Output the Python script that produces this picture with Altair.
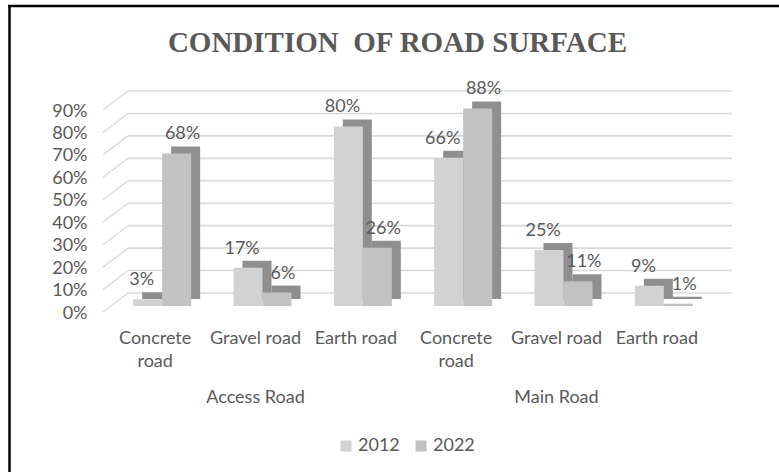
import altair as alt
import pandas as pd

# ---- data ----
title_text = "CONDITION\u00a0 OF ROAD SURFACE"
groups = ["Access Road", "Access Road", "Access Road", "Main Road", "Main Road", "Main Road"]
surfaces = ["Concrete road", "Gravel road", "Earth road", "Concrete road", "Gravel road", "Earth road"]
keys = ["A1", "A2", "A3", "M1", "M2", "M3"]
v2012 = [3, 17, 80, 66, 25, 9]
v2022 = [68, 6, 26, 88, 11, 1]
years = ["2012", "2022"]
y_ticks = [0, 10, 20, 30, 40, 50, 60, 70, 80, 90]
group_names = ["Access Road", "Main Road"]
group_centers = ["A2", "M2"]

rows = []
for k, g, s, a, b in zip(keys, groups, surfaces, v2012, v2022):
    rows.append({"key": k, "group": g, "surface": s, "year": "2012", "value": a / 100})
    rows.append({"key": k, "group": g, "surface": s, "year": "2022", "value": b / 100})
df = pd.DataFrame(rows)
grid_df = pd.DataFrame({"value": [t / 100 for t in y_ticks]})
grp_df = pd.DataFrame({"key": group_centers, "group": group_names})
one = pd.DataFrame({"t": [title_text]})

# label expression (wrap long labels onto two lines)
def lab(s):
    parts = s.split(" ") if len(s) > 12 else [s]
    return "[" + ",".join("'" + p + "'" for p in parts) + "]"

expr = "''"
for k, s in reversed(list(zip(keys, surfaces))):
    expr = f"datum.value == '{k}' ? {lab(s)} : ({expr})"

FONT = "Lato"
TXT = "#595959"
FS = 18

W, H = 602, 202
PL, PT = 105, 104

x_enc = alt.X(
    "key:N",
    scale=alt.Scale(domain=keys, paddingInner=0, paddingOuter=0),
    axis=alt.Axis(
        title=None, labelExpr=expr, domain=False, ticks=False, labelAngle=0,
        labelFont=FONT, labelFontSize=FS, labelColor=TXT, labelPadding=23,
        labelLineHeight=23, labelOverlap=False,
    ),
)
y_scale = alt.Scale(domain=[0, 0.9], nice=False, zero=True)
y_axis = alt.Axis(
    title=None, format=".0%", values=[t / 100 for t in y_ticks], grid=False,
    domain=False, ticks=False, labelPadding=18, labelOffset=7, labelOverlap=False,
    labelFont=FONT, labelFontSize=FS, labelColor=TXT,
)
y_enc = alt.Y("value:Q", scale=y_scale, axis=y_axis)

front_off = alt.XOffset("year:N", scale=alt.Scale(range=[7, 107.33], paddingOuter=0.73, paddingInner=0))
back_off = alt.XOffset("year:N", scale=alt.Scale(range=[16, 116.33], paddingOuter=0.73, paddingInner=0))

grid = alt.Chart(grid_df).mark_rule(color="#d9d9d9", strokeWidth=1.6, yOffset=-13).encode(
    y=y_enc, x=alt.value(23), x2=alt.value(627)
)
diag = alt.Chart(grid_df).mark_rule(color="#d9d9d9", strokeWidth=1.3, yOffset=6, y2Offset=-13).encode(
    y=y_enc, y2=alt.Y2("value"), x=alt.value(-2), x2=alt.value(23)
)

shadow = alt.Chart(df).mark_bar(color="#8f8f8f", yOffset=-7, y2Offset=-7).encode(
    x=x_enc, xOffset=back_off, y=y_enc
)
front = alt.Chart(df).mark_bar().encode(
    x=x_enc,
    xOffset=front_off,
    y=y_enc,
    color=alt.Color(
        "year:N",
        scale=alt.Scale(domain=years, range=["#d2d2d2", "#c2c2c2"]),
        legend=alt.Legend(
            title=None, orient="none", direction="horizontal", legendX=232, legendY=333,
            symbolType="square", symbolSize=121, symbolStrokeWidth=0,
            labelFont=FONT, labelFontSize=FS, labelColor=TXT, columnPadding=12, labelOffset=3,
        ),
    ),
)
labels = alt.Chart(df).mark_text(dy=-19, font=FONT, fontSize=FS, color=TXT, baseline="middle").encode(
    x=x_enc, xOffset=front_off, y=y_enc, text=alt.Text("value:Q", format=".0%")
)
grp = alt.Chart(grp_df).mark_text(font=FONT, fontSize=FS, color=TXT, baseline="middle").encode(
    x=x_enc, y=alt.value(294), text="group:N"
)
title = alt.Chart(one).mark_text(
    font="Liberation Serif", fontSize=29, fontWeight="bold", color=TXT,
    align="center", baseline="alphabetic",
).encode(x=alt.value(292.5), y=alt.value(-52), text="t:N")
border_left = alt.Chart(one).mark_rule(color="black", strokeWidth=2.5).encode(
    x=alt.value(-95.5), y=alt.value(-98), y2=alt.value(380)
)
border_top = alt.Chart(one).mark_rule(color="black", strokeWidth=2.5).encode(
    x=alt.value(-97), x2=alt.value(700), y=alt.value(-98)
)

chart = (
    alt.layer(grid, diag, shadow, front, labels, grp, title, border_left, border_top)
    .resolve_scale(xOffset="independent")
    .properties(
        width=W, height=H,
        autosize=alt.AutoSizeParams(type="none"),
        padding={"left": PL, "top": PT, "right": 779 - PL - W, "bottom": 472 - PT - H},
        background="white",
    )
    .configure_view(stroke=None)
)

chart.save("out.html", embed_options={"renderer": "svg", "actions": False})
